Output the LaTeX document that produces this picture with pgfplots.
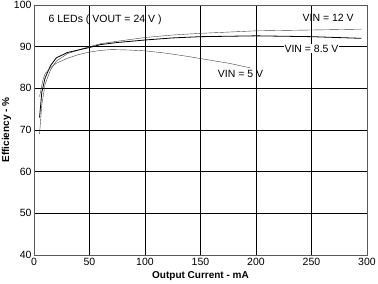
\documentclass[border=0pt]{standalone}
\usepackage{fontspec}
\setmainfont{Liberation Sans}
\usepackage{pgfplots}
\pgfplotsset{compat=1.18}
\begin{document}
\begin{tikzpicture}
\begin{axis}[name=ax,
  scale only axis, width=333pt, height=250pt,
  xmin=0, xmax=300, ymin=40, ymax=100,
  xtick={0,50,...,300}, ytick={40,50,...,100},
  grid=major, major grid style={black, line width=0.6pt},
  axis line style={gray!70!black, line width=0.8pt},
  tick style={draw=none},
  /pgf/number format/assume math mode=true,
  ticklabel style={font=\fontsize{10.5}{12}\selectfont},
  xticklabel style={yshift=0pt},
  yticklabel style={xshift=1pt},
  xlabel={\bfseries Output Current - mA},
  ylabel={\bfseries Efficiency - \%},
  label style={font=\fontsize{10}{12}\selectfont},
  xlabel style={yshift=1pt},
  ylabel style={yshift=-4pt},
  cycle list={{black!75, line width=0.8pt}},
]
% VIN = 12 V
\addplot coordinates {(5,69) (7,76) (10,81) (15,84.5) (20,86.5) (30,88.3) (40,89.2) (50,90) (60,90.7) (75,91.3) (100,92.2) (125,92.8) (150,93.2) (200,93.8) (250,94.0) (295,94.2)};
% VIN = 8.5 V
\addplot coordinates {(5,73) (7,79) (10,82.5) (15,85.5) (20,87.3) (30,88.6) (40,89.2) (50,89.8) (60,90.5) (75,91.0) (100,91.6) (125,92.1) (150,92.4) (200,92.6) (250,92.4) (295,92.0)};
% VIN = 5 V
\addplot coordinates {(5,78) (8,82) (10,83.5) (15,85) (20,86) (30,87.2) (40,88.1) (50,88.7) (60,89.1) (70,89.3) (85,89.2) (100,89.0) (120,88.4) (140,87.6) (160,86.7) (176,86.0) (195,84.9)};
\node[anchor=west, font=\fontsize{10.5}{12}\selectfont] at (axis cs:10,96.4) {6 LEDs ( VOUT = 24 V )};
\node[font=\fontsize{10.5}{12}\selectfont] at (axis cs:265,96.9) {VIN = 12 V};
\node[fill=white, inner sep=1pt, font=\fontsize{10.5}{12}\selectfont] at (axis cs:250,89.5) {VIN = 8.5 V};
\node[font=\fontsize{10.5}{12}\selectfont] at (axis cs:186,83.4) {VIN = 5 V};
\end{axis}
\pgfresetboundingbox
\path ([xshift=-34pt,yshift=-28pt]ax.south west) rectangle ([xshift=11pt,yshift=5pt]ax.north east);
\end{tikzpicture}
\end{document}
